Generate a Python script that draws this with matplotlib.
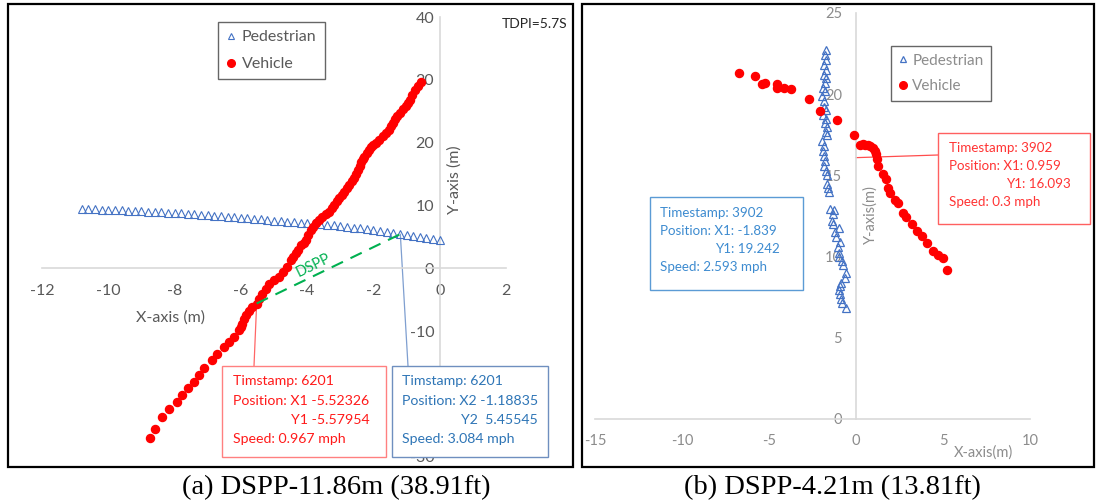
# pedestrian / vehicle trajectories with DSPP callouts (two panels)
import matplotlib
matplotlib.use('Agg')
import matplotlib.pyplot as plt
from matplotlib.patches import Rectangle
from matplotlib.lines import Line2D

plt.rcParams['font.family'] = ['Lato', 'DejaVu Sans']
plt.rcParams['axes.unicode_minus'] = False

# ---- panel (a) data ----
ped_a_x = [-10.8, -10.6, -10.4, -10.2, -10.0, -9.8, -9.6, -9.4, -9.2, -9.0,
           -8.8, -8.6, -8.4, -8.2, -8.0, -7.8, -7.6, -7.4, -7.2, -7.0,
           -6.8, -6.6, -6.4, -6.2, -6.0, -5.8, -5.6, -5.4, -5.2, -5.0,
           -4.8, -4.6, -4.4, -4.2, -4.0, -3.8, -3.6, -3.4, -3.2, -3.0,
           -2.8, -2.6, -2.4, -2.2, -2.0, -1.8, -1.6, -1.4, -1.19, -1.0,
           -0.8, -0.6, -0.4, -0.2, 0.0]
ped_a_y = [9.45, 9.4, 9.45, 9.35, 9.35, 9.3, 9.25, 9.2, 9.15, 9.1,
           9.05, 9.0, 8.95, 8.85, 8.8, 8.75, 8.7, 8.6, 8.55, 8.45,
           8.35, 8.3, 8.2, 8.15, 8.05, 7.95, 7.9, 7.8, 7.7, 7.6,
           7.55, 7.45, 7.4, 7.3, 7.25, 7.15, 7.05, 6.95, 6.85, 6.75,
           6.6, 6.5, 6.4, 6.25, 6.1, 6.0, 5.85, 5.7, 5.455, 5.3,
           5.15, 4.95, 4.85, 4.7, 4.55]

veh_a_x = [-8.74, -8.59, -8.38, -8.18, -7.93, -7.78, -7.58, -7.42, -7.27, -7.12,
           -6.87, -6.72, -6.52, -6.36, -6.21, -6.06, -6.0, -5.96, -5.91, -5.85,
           -5.76, -5.65, -5.52, -5.45, -5.35, -5.25, -5.15, -5.0, -4.85, -4.72,
           -4.6, -4.49, -4.42, -4.34, -4.27, -4.19, -4.1, -4.04, -3.96, -3.89,
           -3.82, -3.74, -3.64, -3.54, -3.44, -3.33, -3.25, -3.18, -3.1, -3.03,
           -2.95, -2.88, -2.8, -2.73, -2.65, -2.58, -2.52, -2.47, -2.42, -2.37,
           -2.32, -2.27, -2.2, -2.12, -2.07, -2.02, -1.92, -1.82, -1.72, -1.62,
           -1.54, -1.46, -1.41, -1.36, -1.29, -1.21, -1.1, -1.01, -0.96, -0.91,
           -0.84, -0.76, -0.66, -0.55]
veh_a_y = [-26.9, -25.5, -23.7, -22.3, -21.3, -20.2, -19.1, -18.1, -17.0, -15.9,
           -14.6, -13.6, -12.5, -11.7, -10.9, -9.8, -9.3, -8.8, -8.0, -7.4,
           -6.7, -6.2, -5.58, -4.8, -4.0, -3.2, -2.4, -1.9, -1.3, -0.6,
           0.2, 1.3, 1.8, 2.4, 3.0, 3.7, 4.1, 4.5, 5.3, 6.1,
           6.6, 7.2, 7.7, 8.2, 8.6, 9.0, 9.6, 10.1, 10.7, 11.2,
           11.7, 12.2, 12.8, 13.3, 13.9, 14.4, 15.0, 15.7, 16.3, 17.0,
           17.4, 17.8, 18.3, 18.9, 19.3, 19.7, 20.0, 20.5, 21.0, 21.5,
           22.1, 22.6, 23.2, 23.7, 24.2, 24.7, 25.3, 25.8, 26.3, 26.8,
           27.6, 28.4, 29.0, 29.6]

# conflict point at timestamp 6201
veh_a_pt = (-5.52326, -5.57954)
ped_a_pt = (-1.18835, 5.45545)

# ---- panel (b) data ----
ped_b_x = [-1.72, -1.78, -1.7, -1.82, -1.75, -1.85, -1.72, -1.8, -1.9, -1.78,
           -1.95, -1.85, -1.84, -1.75, -1.9, -1.7, -1.8, -1.65, -1.75, -1.68,
           -1.95, -1.85, -1.9, -1.82, -1.78, -1.85, -1.7, -1.68, -1.65, -1.6,
           -1.55, -1.5, -1.25, -1.35, -1.4, -1.3, -0.95, -1.2, -1.15, -0.9,
           -1.05, -1.0, -0.95, -0.8, -0.75, -0.6, -0.65, -0.85, -0.9, -0.95,
           -0.9, -0.85, -0.8, -0.55]
ped_b_y = [22.7, 22.4, 22.1, 21.8, 21.5, 21.2, 21.0, 20.7, 20.4, 20.2,
           19.9, 19.6, 19.24, 19.0, 18.7, 18.5, 18.2, 18.0, 17.7, 17.5,
           17.1, 16.8, 16.5, 16.2, 15.9, 15.6, 15.3, 15.0, 14.5, 14.2,
           14.0, 12.95, 12.85, 12.6, 12.2, 12.0, 11.75, 11.5, 11.2, 10.9,
           10.6, 10.2, 10.0, 9.7, 9.5, 9.0, 8.7, 8.4, 8.2, 7.95,
           7.7, 7.4, 7.15, 6.85]

veh_b_x = [-6.72, -5.82, -5.38, -5.23, -4.56, -4.52, -4.14, -3.75, -2.68, -2.07,
           -1.11, -0.13, 0.23, 0.4, 0.52, 0.7, 0.8, 0.96, 1.1, 1.15,
           1.19, 1.28, 1.57, 1.72, 1.86, 1.95, 2.24, 2.43, 2.72, 2.87,
           3.2, 3.49, 3.78, 4.07, 4.45, 4.74, 5.02, 5.21]
veh_b_y = [21.3, 21.1, 20.6, 20.7, 20.65, 20.4, 20.4, 20.3, 19.7, 18.95,
           18.4, 17.5, 16.9, 16.95, 16.85, 16.9, 16.8, 16.7, 16.5, 16.3,
           16.0, 15.6, 15.06, 14.75, 14.24, 13.9, 13.5, 13.3, 12.7, 12.45,
           11.98, 11.56, 11.25, 10.85, 10.33, 10.12, 9.92, 9.15]

veh_b_pt = (0.959, 16.093)

W, H = 1096, 503
PED = '#4472c4'
VEH = '#ff0000'


def fx(px):
    return px / W


def fy(py):
    return 1 - py / H


fig = plt.figure(figsize=(W / 100, H / 100), dpi=100)

# panel frames
for x0, x1 in [(8, 573), (582, 1094)]:
    fig.add_artist(Rectangle((fx(x0), fy(467)), (x1 - x0) / W, 463 / H,
                             transform=fig.transFigure, fill=False,
                             ec='black', lw=1.6))


def setup_axes(ax, xt, yt, col, xpad, ypad, fs):
    for s in ['top', 'right']:
        ax.spines[s].set_visible(False)
    ax.spines['left'].set_position(('data', 0))
    ax.spines['bottom'].set_position(('data', 0))
    for s in ['left', 'bottom']:
        ax.spines[s].set_color('#d9d9d9')
        ax.spines[s].set_linewidth(1.2)
    ax.set_xticks(xt)
    ax.set_yticks(yt)
    ax.tick_params(axis='x', length=0, pad=xpad, labelsize=fs, labelcolor=col)
    ax.tick_params(axis='y', length=0, pad=ypad, labelsize=fs, labelcolor=col)
    ax.patch.set_visible(False)


# ================= panel (a) =================
ax1 = fig.add_axes([fx(42), fy(457), (506 - 42) / W, (457 - 17) / H])
ax1.set_xlim(-12, 2)
ax1.set_ylim(-30, 40)
setup_axes(ax1, range(-12, 3, 2), range(-30, 41, 10), '#595959', 11, 4, 11.5)

ax1.plot(ped_a_x, ped_a_y, ls='none', marker='^', ms=5.5, mfc='none', mec=PED,
         mew=0.8, zorder=3)
ax1.plot(veh_a_x, veh_a_y, ls='none', marker='o', ms=5.8, mfc=VEH, mec=VEH,
         zorder=4)

# DSPP dashed link
ax1.plot([veh_a_pt[0], ped_a_pt[0]], [veh_a_pt[1], ped_a_pt[1]],
         color='#00b050', ls=(0, (6, 4)), lw=1.5, zorder=5)
ax1.text(-3.8, 0.5, 'DSPP', color='#00b050', fontsize=10.5, rotation=26,
         ha='center', va='center', zorder=5)

fig.text(fx(171), fy(318), 'X-axis (m)', ha='center', va='center',
         fontsize=11.5, color='#595959')
fig.text(fx(455), fy(180), 'Y-axis (m)', ha='center', va='center',
         fontsize=11.5, color='#595959', rotation=90)
fig.text(fx(535), fy(24), 'TDPI=5.7S', ha='center', va='center',
         fontsize=10, color='#262626')

leg1 = ax1.legend([Line2D([], [], ls='none', marker='^', ms=5, mfc='none', mec=PED, mew=0.8),
                   Line2D([], [], ls='none', marker='o', ms=5.5, mfc=VEH, mec=VEH)],
                  ['Pedestrian', 'Vehicle'], loc='upper left',
                  bbox_to_anchor=(fx(218), fy(22)), bbox_transform=fig.transFigure,
                  borderaxespad=0, fancybox=False, edgecolor='#404040',
                  fontsize=11.5, handlelength=0.6, handletextpad=0.4,
                  borderpad=0.5, labelspacing=0.8, labelcolor='#595959')
leg1.get_frame().set_linewidth(1.0)


def callout(ax, box, lines, color, edge, fs, anchor=None, pt=None, lcol=None):
    x0, y0, x1, y1 = box
    fig.add_artist(Rectangle((fx(x0), fy(y1)), (x1 - x0) / W, (y1 - y0) / H,
                             transform=fig.transFigure, fc='white', ec=edge,
                             lw=1.0, zorder=6))
    for px, py, s in lines:
        fig.text(fx(px), fy(py), s, ha='left', va='center', fontsize=fs,
                 color=color, zorder=7)
    if pt is not None:
        ax.annotate('', xy=pt, xycoords='data',
                    xytext=(fx(anchor[0]), fy(anchor[1])),
                    textcoords='figure fraction',
                    arrowprops=dict(arrowstyle='-', color=lcol, lw=0.9,
                                    shrinkA=0, shrinkB=0), zorder=2)


callout(ax1, (222, 366, 386, 457),
        [(233, 381, 'Timstamp: 6201'),
         (233, 401, 'Position: X1 -5.52326'),
         (291, 420, 'Y1 -5.57954'),
         (233, 439, 'Speed: 0.967 mph')],
        '#ff1a1a', '#ff8080', 10.2, anchor=(254, 366), pt=veh_a_pt, lcol='#ff6666')
callout(ax1, (392, 366, 548, 457),
        [(402, 381, 'Timstamp: 6201'),
         (402, 401, 'Position: X2 -1.18835'),
         (461, 420, 'Y2  5.45545'),
         (402, 439, 'Speed: 3.084 mph')],
        '#2e75b6', '#6f8fbf', 10.2, anchor=(408, 366), pt=ped_a_pt, lcol='#7f9fd0')

# ================= panel (b) =================
ax2 = fig.add_axes([fx(595), fy(419), (1030 - 595) / W, (419 - 13) / H])
ax2.set_xlim(-15, 10)
ax2.set_ylim(0, 25)
setup_axes(ax2, range(-15, 11, 5), range(0, 26, 5), '#8c8c8c', 11, 10, 10.5)

ax2.plot(ped_b_x, ped_b_y, ls='none', marker='^', ms=5.5, mfc='none', mec=PED,
         mew=0.9, zorder=3)
ax2.plot(veh_b_x, veh_b_y, ls='none', marker='o', ms=5.8, mfc=VEH, mec=VEH,
         zorder=4)

fig.text(fx(983), fy(453), 'X-axis(m)', ha='center', va='center',
         fontsize=10.5, color='#8c8c8c')
fig.text(fx(871), fy(215), 'Y-axis(m)', ha='center', va='center',
         fontsize=10.5, color='#8c8c8c', rotation=90)

leg2 = ax2.legend([Line2D([], [], ls='none', marker='^', ms=5, mfc='none', mec=PED, mew=0.9),
                   Line2D([], [], ls='none', marker='o', ms=5.5, mfc=VEH, mec=VEH)],
                  ['Pedestrian', 'Vehicle'], loc='upper left',
                  bbox_to_anchor=(fx(891), fy(46)), bbox_transform=fig.transFigure,
                  borderaxespad=0, fancybox=False, edgecolor='#404040',
                  fontsize=11, handlelength=0.6, handletextpad=0.3,
                  borderpad=0.5, labelspacing=0.75, labelcolor='#8c8c8c')
leg2.get_frame().set_linewidth(1.0)

callout(ax2, (938, 133, 1090, 224),
        [(949, 148, 'Timestamp: 3902'),
         (949, 166, 'Position: X1: 0.959'),
         (1006, 184, 'Y1: 16.093'),
         (949, 202, 'Speed: 0.3 mph')],
        '#ff3333', '#ff6060', 9.6, anchor=(938, 155),
        pt=(0.0, veh_b_pt[1]), lcol='#ff4d4d')
callout(ax2, (650, 197, 803, 290),
        [(660, 213, 'Timestamp: 3902'),
         (660, 231, 'Position: X1: -1.839'),
         (715, 249, 'Y1: 19.242'),
         (660, 267, 'Speed: 2.593 mph')],
        '#3d8bd0', '#5b9bd5', 9.6)

# captions
fig.text(fx(336), fy(488), '(a) DSPP-11.86m (38.91ft)', ha='center', va='center',
         fontsize=20.5, family='Liberation Serif', color='black')
fig.text(fx(832), fy(488), '(b) DSPP-4.21m (13.81ft)', ha='center', va='center',
         fontsize=20.5, family='Liberation Serif', color='black')

fig.savefig('out.png', dpi=100)
